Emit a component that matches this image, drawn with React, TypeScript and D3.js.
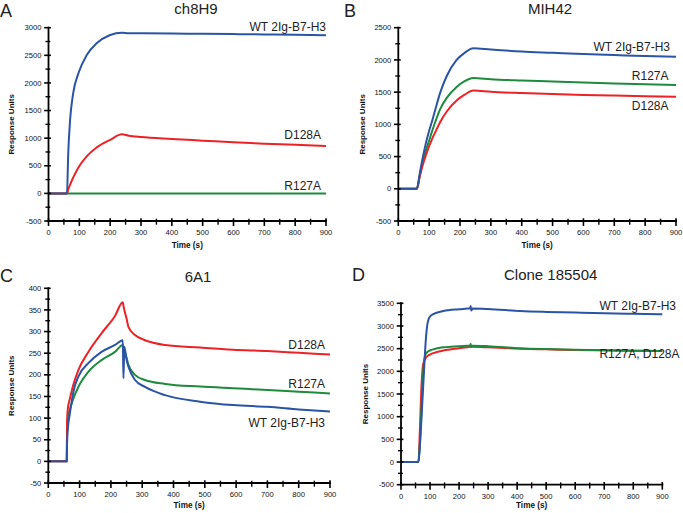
import React from 'react';
import * as d3 from 'd3';

// ---------- shared axis values ----------
const xTicks = [0, 100, 200, 300, 400, 500, 600, 700, 800, 900];
const xMinor = [50, 150, 250, 350, 450, 550, 650, 750, 850];

// ---------- Panel A : ch8H9 ----------
const aTime = [0, 60, 64, 70, 80, 97, 124, 156, 200, 238, 260, 300, 400, 500, 600, 700, 800, 900];
const aWT = [0, 0, 724, 1328, 1812, 2174, 2505, 2717, 2868, 2910, 2900, 2898, 2893, 2889, 2884, 2878, 2872, 2865];
const aD128A = [0, 0, 70, 160, 285, 470, 670, 830, 970, 1069, 1045, 1020, 985, 955, 925, 900, 880, 857];
const aR127A = [0, 0, 0, 0, 0, 0, 0, 0, 0, 0, 0, 0, 0, 0, 0, 0, 0, 0];
const aYTicks = [-500, 0, 500, 1000, 1500, 2000, 2500, 3000];
const aYMinor = [-250, 250, 750, 1250, 1750, 2250, 2750];

// ---------- Panel B : MIH42 ----------
const bTime = [0, 60, 70, 80, 90, 100, 110, 120, 135, 157, 189, 215, 243, 300, 400, 500, 600, 700, 800, 900];
const bWT = [0, 0, 250, 500, 720, 900, 1060, 1230, 1480, 1750, 2000, 2110, 2180, 2160, 2130, 2110, 2090, 2075, 2060, 2050];
const bR127A = [0, 0, 220, 430, 600, 750, 900, 1040, 1230, 1410, 1580, 1670, 1720, 1700, 1680, 1665, 1650, 1635, 1622, 1610];
const bD128A = [0, 0, 200, 380, 530, 660, 780, 880, 1030, 1200, 1370, 1460, 1525, 1505, 1485, 1470, 1457, 1447, 1438, 1430];
const bYTicks = [-500, 0, 500, 1000, 1500, 2000, 2500];
const bYMinor = [-250, 250, 750, 1250, 1750, 2250];

// ---------- Panel C : 6A1 ----------
const cTime = [0, 59, 60, 62, 69, 75, 80, 96, 128, 170, 213, 238, 240, 243, 250, 256, 277, 309, 373, 485, 591, 700, 800, 900];
const cD128A = [0, 0, 88, 119, 145, 163, 177, 211, 253, 296, 336, 368, 360, 350, 330, 311, 292, 280, 269, 263, 258, 255, 251, 247];
const cWT = [0, 0, 42, 70, 111, 140, 160, 196, 227, 253, 269, 280, 192, 265, 235, 219, 188, 172, 153, 138, 130, 126, 120, 115];
const cR127A = [0, 0, 80, 100, 120, 134, 145, 172, 207, 234, 253, 269, 262, 257, 240, 223, 200, 188, 179, 173, 169, 165, 161, 157];
const cYTicks = [-50, 0, 50, 100, 150, 200, 250, 300, 350, 400];
const cYMinor = [-25, 25, 75, 125, 175, 225, 275, 325, 375];

// ---------- Panel D : Clone 185504 ----------
const dTime = [0, 60, 65, 70, 75, 80, 85, 90, 95, 100, 111, 146, 200, 238, 240, 242, 246, 300, 410, 500, 600, 700, 800, 900];
const dWT = [0, 0, 350, 900, 1500, 2100, 2650, 3000, 3150, 3210, 3260, 3330, 3370, 3390, 3440, 3340, 3385, 3375, 3330, 3310, 3295, 3280, 3268, 3257];
const dR127A = [0, 0, 400, 1100, 1800, 2250, 2380, 2420, 2445, 2460, 2485, 2530, 2555, 2570, 2600, 2540, 2565, 2555, 2510, 2490, 2475, 2465, 2455, 2450];
const dD128A = [0, 0, 700, 1600, 2100, 2230, 2290, 2330, 2355, 2370, 2400, 2460, 2510, 2540, 2545, 2535, 2540, 2530, 2500, 2485, 2470, 2462, 2455, 2448];
const dYTicks = [-500, 0, 500, 1000, 1500, 2000, 2500, 3000, 3500];
const dYMinor = [-250, 250, 750, 1250, 1750, 2250, 2750, 3250];

const BLUE = '#2b54a4';
const RED = '#ec2227';
const GREEN = '#1d8a3d';
const FONT = '"Liberation Sans", Arial, Helvetica, sans-serif';

type Series = { name: string; values: number[]; color: string; lx: number; ly: number };
type PanelCfg = {
  letter: string; title: string; time: number[];
  series: Series[];
  yDomain: [number, number]; yTicks: number[]; yMinor: number[];
  left: number; right: number; top: number; bottom: number;
  titleX: number; titleY: number; letterX: number; letterY: number;
  ylabX: number; xlabY: number;
};

const panels: PanelCfg[] = [
  {
    letter: 'A', title: 'ch8H9', time: aTime,
    series: [
      { name: 'R127A', values: aR127A, color: GREEN, lx: 321, ly: 189.5 },
      { name: 'D128A', values: aD128A, color: RED, lx: 321, ly: 139 },
      { name: 'WT 2Ig-B7-H3', values: aWT, color: BLUE, lx: 326, ly: 31 },
    ],
    yDomain: [-500, 3000], yTicks: aYTicks, yMinor: aYMinor,
    left: 48.5, right: 326, top: 27.7, bottom: 221,
    titleX: 196, titleY: 13.5, letterX: 0, letterY: 16.5, ylabX: 13.5, xlabY: 248,
  },
  {
    letter: 'B', title: 'MIH42', time: bTime,
    series: [
      { name: 'R127A', values: bR127A, color: GREEN, lx: 668.5, ly: 80 },
      { name: 'D128A', values: bD128A, color: RED, lx: 668.5, ly: 110 },
      { name: 'WT 2Ig-B7-H3', values: bWT, color: BLUE, lx: 670, ly: 51 },
    ],
    yDomain: [-500, 2500], yTicks: bYTicks, yMinor: bYMinor,
    left: 398.3, right: 676, top: 27.7, bottom: 221,
    titleX: 550, titleY: 13.5, letterX: 344, letterY: 16.5, ylabX: 365, xlabY: 248,
  },
  {
    letter: 'C', title: '6A1', time: cTime,
    series: [
      { name: 'R127A', values: cR127A, color: GREEN, lx: 325, ly: 387.5 },
      { name: 'D128A', values: cD128A, color: RED, lx: 325, ly: 349 },
      { name: 'WT 2Ig-B7-H3', values: cWT, color: BLUE, lx: 325, ly: 427 },
    ],
    yDomain: [-50, 400], yTicks: cYTicks, yMinor: cYMinor,
    left: 48.3, right: 330, top: 288.3, bottom: 483,
    titleX: 198, titleY: 281.5, letterX: 0, letterY: 282, ylabX: 13.5, xlabY: 508,
  },
  {
    letter: 'D', title: 'Clone 185504', time: dTime,
    series: [
      { name: '', values: dD128A, color: RED, lx: 0, ly: 0 },
      { name: 'R127A, D128A', values: dR127A, color: GREEN, lx: 679.5, ly: 357.5 },
      { name: 'WT 2Ig-B7-H3', values: dWT, color: BLUE, lx: 676, ly: 310 },
    ],
    yDomain: [-500, 3500], yTicks: dYTicks, yMinor: dYMinor,
    left: 401, right: 662.3, top: 303.3, bottom: 484.7,
    titleX: 550.7, titleY: 280, letterX: 352, letterY: 280.5, ylabX: 367.5, xlabY: 508,
  },
];

function Panel({ p }: { p: PanelCfg }) {
  const x = d3.scaleLinear().domain([0, 900]).range([p.left, p.right]);
  const y = d3.scaleLinear().domain(p.yDomain).range([p.bottom, p.top]);
  const line = d3
    .line<number>()
    .x((_, i) => x(p.time[i]))
    .y((v) => y(v))
    .curve(d3.curveMonotoneX);
  const ax = p.left;
  const ay = p.bottom;
  return (
    <g>
      <text x={p.letterX} y={p.letterY} fontSize={18} fontFamily={FONT} fill="#222">{p.letter}</text>
      <text x={p.titleX} y={p.titleY} fontSize={15} fontFamily={FONT} textAnchor="middle" fill="#222">{p.title}</text>
      {p.series.map((s, i) => (
        <path key={i} d={line(s.values) || ''} fill="none" stroke={s.color} strokeWidth={2} strokeLinejoin="round" />
      ))}
      {/* axes */}
      <line x1={ax} x2={ax} y1={p.top - 1} y2={ay + 1} stroke="#000" strokeWidth={1.8} />
      <line x1={ax - 1} x2={p.right + 1} y1={ay} y2={ay} stroke="#000" strokeWidth={1.8} />
      {p.yTicks.map((t) => (
        <g key={'yt' + t}>
          <line x1={ax - 4.3} x2={ax + 2.4} y1={y(t)} y2={y(t)} stroke="#000" strokeWidth={1.6} />
          <text x={ax - 7} y={y(t)} dy="0.35em" textAnchor="end" fontSize={7.6} fontFamily={FONT} fill="#111">{String(t)}</text>
        </g>
      ))}
      {p.yMinor.map((t) => (
        <line key={'ym' + t} x1={ax - 3} x2={ax + 1.8} y1={y(t)} y2={y(t)} stroke="#000" strokeWidth={1.4} />
      ))}
      {xTicks.map((t) => (
        <g key={'xt' + t}>
          <line x1={x(t)} x2={x(t)} y1={ay - 2.7} y2={ay + 5} stroke="#000" strokeWidth={1.6} />
          <text x={x(t)} y={ay + 13.8} textAnchor="middle" fontSize={7.6} fontFamily={FONT} fill="#111">{String(t)}</text>
        </g>
      ))}
      {xMinor.map((t) => (
        <line key={'xm' + t} x1={x(t)} x2={x(t)} y1={ay - 2.3} y2={ay + 3.7} stroke="#000" strokeWidth={1.4} />
      ))}
      <text x={(p.left + p.right) / 2} y={p.xlabY} textAnchor="middle" fontSize={8.2} fontWeight="bold" fontFamily={FONT} fill="#111">Time (s)</text>
      <text transform={`translate(${p.ylabX},${(p.top + p.bottom) / 2}) rotate(-90)`} textAnchor="middle" fontSize={8} fontWeight="bold" fontFamily={FONT} fill="#111">Response Units</text>
      {p.series.filter((s) => s.name).map((s, i) => (
        <text key={'lab' + i} x={s.lx} y={s.ly} textAnchor="end" fontSize={12} fontFamily={FONT} fill="#222">{s.name}</text>
      ))}
    </g>
  );
}

export default function App() {
  return (
    <svg width={683} height={513} style={{ position: 'absolute', left: 0, top: 0, background: '#fff' }}>
      <rect width={683} height={513} fill="#fff" />
      {panels.map((p) => (
        <Panel key={p.letter} p={p} />
      ))}
    </svg>
  );
}
